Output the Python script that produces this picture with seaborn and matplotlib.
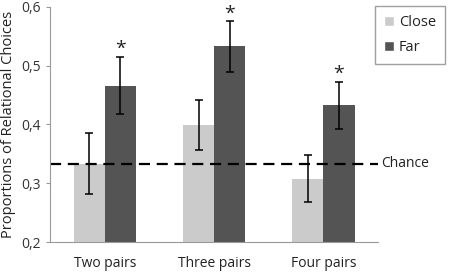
import numpy as np
import pandas as pd
import seaborn as sns
import matplotlib.pyplot as plt
from matplotlib.ticker import FuncFormatter
from matplotlib.patches import Patch

# values
categories = ['Two pairs', 'Three pairs', 'Four pairs']
conditions = ['Close', 'Far']
close_vals = [0.333, 0.399, 0.308]
far_vals = [0.466, 0.533, 0.433]
close_err = [0.052, 0.042, 0.040]
far_err = [0.049, 0.043, 0.040]
significant_far = [True, True, True]
chance = 1 / 3

df = pd.DataFrame({
    'pairs': categories * 2,
    'cond': ['Close'] * 3 + ['Far'] * 3,
    'value': close_vals + far_vals,
    'err': close_err + far_err,
})

sns.set_style('white')
plt.rcParams['font.family'] = ['Open Sans', 'DejaVu Sans']
txt = '#222222'

fig = plt.figure(figsize=(4.56, 2.76), dpi=100)
ax = fig.add_axes([0.11, 0.123, 0.719, 0.852])

palette = {'Close': '#cbcbcb', 'Far': '#545454'}
sns.barplot(data=df, x='pairs', y='value', hue='cond', palette=palette,
            errorbar=None, width=0.57, saturation=1, ax=ax, legend=False,
            linewidth=0)

# error bars and stars on top of the seaborn bars
for container, errs, cond in zip(ax.containers, [close_err, far_err], conditions):
    for i, (bar, e) in enumerate(zip(container, errs)):
        cx = bar.get_x() + bar.get_width() / 2
        h = bar.get_height()
        ax.errorbar(cx, h, yerr=e, fmt='none', ecolor='black', elinewidth=1.1,
                    capsize=3, capthick=1.1)
        if cond == 'Far' and significant_far[i]:
            ax.annotate('*', (cx, h + e), xytext=(0, -1), textcoords='offset points',
                        ha='center', va='bottom', fontsize=14, color=txt,
                        annotation_clip=False)

# chance line
ax.axhline(chance, color='black', linestyle=(0, (5, 3)), linewidth=1.6)
ax.text(1.01, chance, 'Chance', transform=ax.get_yaxis_transform(), ha='left',
        va='center', fontsize=10, color=txt)

ax.set_ylim(0.2, 0.6)
ax.set_xlim(-0.5, 2.5)
ax.set_yticks([0.2, 0.3, 0.4, 0.5, 0.6])
ax.yaxis.set_major_formatter(FuncFormatter(lambda v, p: f'{v:.1f}'.replace('.', ',')))
ax.set_xlabel('')
ax.set_ylabel('Proportions of Relational Choices', fontsize=10.5, color=txt, labelpad=4)

# category boundary ticks
ax.set_xticks([-0.5, 0.5, 1.5, 2.5], minor=False)
ax.set_xticklabels([])
ax.set_xticks([0, 1, 2], minor=True)
ax.set_xticklabels(categories, minor=True, fontsize=10, color=txt)
ax.tick_params(axis='x', which='major', length=4, color='#999999', direction='out')
ax.tick_params(axis='x', which='minor', length=0, pad=10)
ax.tick_params(axis='y', length=3, color='#999999', labelsize=10, labelcolor='#333333',
               left=True, direction='out')

for s in ['top', 'right']:
    ax.spines[s].set_visible(False)
for s in ['left', 'bottom']:
    ax.spines[s].set_color('#999999')
    ax.spines[s].set_linewidth(0.8)

# legend
handles = [Patch(facecolor=palette[c], label=c) for c in conditions]
leg = fig.legend(handles=handles, loc='upper left', bbox_to_anchor=(0.822, 0.978),
                 frameon=True, fancybox=False, edgecolor='#888888', fontsize=10.5,
                 handlelength=0.7, handleheight=0.7, handletextpad=0.35,
                 labelspacing=0.7, borderpad=0.6, borderaxespad=0)
leg.get_frame().set_linewidth(1.0)
for t in leg.get_texts():
    t.set_color(txt)

fig.savefig('out.png', dpi=100)
